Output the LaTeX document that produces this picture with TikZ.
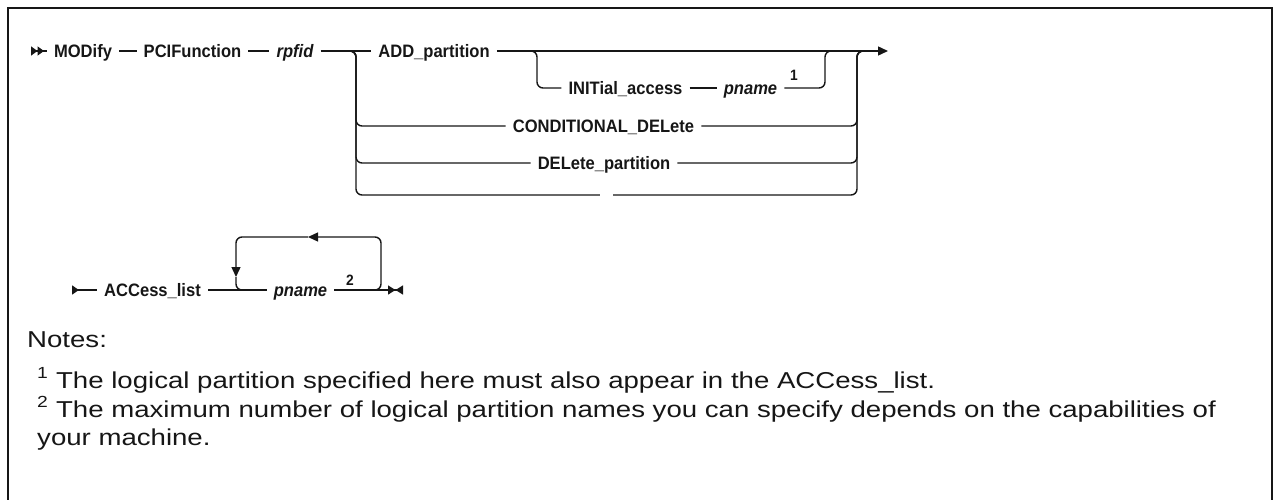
\documentclass[tikz,border=0pt]{standalone}
\usepackage{fontspec}
\setmainfont{Liberation Sans}
\newfontfamily\railfont[FakeStretch=0.92]{Liberation Sans}
\newfontfamily\notefont[FakeStretch=1.2]{Liberation Sans}
\usetikzlibrary{arrows.meta,positioning,calc}
\definecolor{railink}{RGB}{22,22,22}

\begin{document}
\begin{tikzpicture}[x=1pt,y=-1pt,
    rail/.style={line width=1.4pt, color=railink},
    fork/.style={rail, rounded corners=6pt},
    kw/.style={font=\railfont\fontsize{18}{20}\selectfont\bfseries, text=railink,
      inner xsep=7pt, inner ysep=0pt, text height=12.9pt, text depth=0pt},
    var/.style={kw, font=\railfont\fontsize{18}{20}\selectfont\bfseries\itshape},
    noteref/.style={font=\railfont\fontsize{15}{16}\selectfont\bfseries, text=railink, inner sep=0pt},
    notetext/.style={font=\notefont\fontsize{23}{28}\selectfont, text=railink, inner sep=0pt, anchor=base west}]
  \useasboundingbox (0,0) rectangle (1274,500);
  % open frame
  \draw[line width=2.5pt, color=railink] (8,500) |- (1272,8) -- (1272,500);

  % first row
  \coordinate (start1) at (31,51);
  \node[kw]  (modify) at (83,51)    {MODify};
  \node[kw]  (pcif)   at (192.5,51) {PCIFunction};
  \node[var] (rpfid)  at (295,51)   {rpfid};
  \node[kw]  (add)    at (434,51)   {ADD\_partition};
  \node[kw]  (init)   at (625.5,88) {INITial\_access};
  \node[var] (pn1)    at (750.5,88) {pname};
  \node[noteref] (n1) at (794,75)   {1};
  \node[kw]  (cond)   at (603.5,126) {CONDITIONAL\_DELete};
  \node[kw]  (del)    at (604,163)  {DELete\_partition};
  \node[inner sep=0pt, minimum width=13pt] (skip) at (606.5,195) {};
  \coordinate (bl) at (356,51);
  \coordinate (il) at (537,51);
  \coordinate (ir) at (825,51);
  \coordinate (br) at (857,51);
  \coordinate (end1) at (888,51);

  \draw[rail, {Triangle[reversed,length=6.5pt,width=9pt]Triangle[reversed,length=6.5pt,width=9pt]}-] (start1) -- (modify.west);
  \draw[rail] (modify) -- (pcif);
  \draw[rail] (pcif) -- (rpfid);
  \draw[rail] (rpfid) -- (add);
  \draw[rail, -{Triangle[length=10pt,width=9pt]}] (add.east) -- (end1);
  % optional INITial_access
  \draw[fork] ($(il)+(-12,0)$) -- (il) |- (init.west);
  \draw[rail] (init) -- (pn1);
  \draw[fork] (pn1.east) -| (ir) -- ($(ir)+(12,0)$);
  % choices
  \foreach \c in {cond,del,skip}{
    \draw[fork] ($(bl)+(-12,0)$) -- (bl) |- (\c.west);
    \draw[fork] (\c.east) -| (br) -- ($(br)+(12,0)$);
  }

  % second row
  \coordinate (start2) at (72,290);
  \node[kw]  (acc) at (152.5,290) {ACCess\_list};
  \node[var] (pn2) at (300.5,290) {pname};
  \node[noteref] (n2) at (350,280) {2};
  \coordinate (stop) at (403,290);
  \coordinate (lpL)  at (236,290);
  \coordinate (lpR)  at (381,290);
  \coordinate (lpTL) at (236,237);
  \coordinate (lpTR) at (381,237);
  \coordinate (lpT)  at (308,237);
  \coordinate (lpD)  at (236,277);

  \draw[rail, {Triangle[reversed,length=7pt,width=9pt]}-] (start2) -- (acc.west);
  \draw[rail] (acc) -- (pn2);
  \draw[rail, -{Triangle[length=7.5pt,width=9pt]Triangle[reversed,length=7.5pt,width=9pt]}] (pn2.east) -- (stop);
  % repeat loop
  \draw[fork, -{Triangle[length=10pt,width=9pt]}] ($(lpR)+(-14,0)$) -| (lpTR) -- (lpT);
  \draw[fork, -{Triangle[length=10pt,width=9pt]}] (lpT) -- (lpTL) -- (lpD);
  \draw[fork] (lpD) |- ($(lpL)+(14,0)$);

  % notes
  \node[notetext] (notes) at (27,347) {Notes:};
  \node[notetext] (note1) at (37,388) {\textsuperscript{1} The logical partition specified here must also appear in the ACCess\_list.};
  \node[notetext] (note2) at (37,417) {\textsuperscript{2} The maximum number of logical partition names you can specify depends on the capabilities of};
  \node[notetext] (note3) at (37,445) {your machine.};
\end{tikzpicture}
\end{document}
